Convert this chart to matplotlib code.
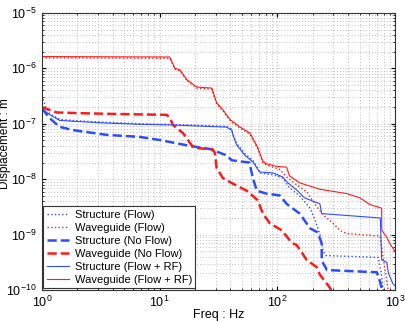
import matplotlib as mpl
mpl.use('Agg')
import matplotlib.pyplot as plt
from matplotlib.ticker import NullFormatter

plt.rcParams['font.family'] = ['Liberation Sans', 'DejaVu Sans']
plt.rcParams['mathtext.fontset'] = 'custom'
plt.rcParams['mathtext.rm'] = 'Liberation Sans'

# Structure (Flow + RF)
f_str_rf = [1, 1.17, 1.42, 1.98, 3.57, 6.8, 13.0, 37, 41, 42, 45, 53, 62, 67, 71, 92,
            111, 123, 146, 171, 230, 238, 750, 770, 850, 880, 960, 1000]
v_str_rf = [1.9e-7, 1.45e-7, 1.15e-7, 1.1e-7, 1.03e-7, 9.8e-8, 9.5e-8, 8.7e-8, 7.7e-8, 6.3e-8,
            4.2e-8, 2.7e-8, 2.05e-8, 1.6e-8, 1.35e-8, 1.3e-8, 1.1e-8, 8.6e-9, 6.4e-9, 4.6e-9,
            3.6e-9, 2.4e-9, 2.0e-9, 3.5e-10, 3.2e-10, 2.0e-10, 1.3e-10, 1.2e-10]

# Structure (Flow)
f_str_flow = [1, 1.08, 1.17, 1.42, 1.98, 3.57, 6.8, 13.0, 37, 41, 42, 45, 53, 62, 67, 71, 92,
              111, 127, 155, 190, 210, 230, 245, 260, 720, 760, 790, 820]
v_str_flow = [3.2e-7, 2.0e-7, 1.5e-7, 1.2e-7, 1.13e-7, 1.06e-7, 1.0e-7, 9.7e-8, 9.0e-8, 8.0e-8,
              6.6e-8, 4.5e-8, 2.9e-8, 2.2e-8, 1.7e-8, 1.3e-8, 1.2e-8, 1.05e-8, 7.0e-9, 5.0e-9,
              3.0e-9, 1.8e-9, 1.0e-9, 5.0e-10, 4.2e-10, 3.9e-10, 2.2e-10, 1.1e-10, 8e-11]

# Structure (No Flow)
f_str_noflow = [1, 1.17, 1.42, 1.83, 3.57, 6.8, 10.0, 18, 26.8, 37, 41, 48, 58, 62, 67, 81,
                105, 120, 155, 190, 220, 238, 238.5, 264, 700, 740, 770, 790]
v_str_noflow = [1.9e-7, 1.25e-7, 8.8e-8, 7.7e-8, 6.3e-8, 5.8e-8, 5.1e-8, 4.0e-8, 3.5e-8, 2.7e-8,
                2.2e-8, 2.1e-8, 2.0e-8, 1.05e-8, 6.2e-9, 5.5e-9, 5.1e-9, 3.6e-9, 2.4e-9, 1.3e-9,
                1.1e-9, 7e-10, 3.4e-10, 2.3e-10, 2.1e-10, 1.5e-10, 1.1e-10, 9e-11]

# Waveguide (No Flow)
f_wg_noflow = [1, 1.34, 2.2, 4.3, 11.5, 12.2, 13.0, 15.8, 17.0, 19.2, 22, 28, 29.5, 30.5, 34.5,
               42, 55, 68, 75.5, 86.5, 109, 133, 146, 178, 216, 230, 280, 300]
v_wg_noflow = [2.0e-7, 1.6e-7, 1.55e-7, 1.5e-7, 1.45e-7, 1.3e-7, 9.5e-8, 6.8e-8, 5.5e-8, 3.8e-8,
               3.6e-8, 3.5e-8, 3.0e-8, 1.6e-8, 1.05e-8, 8.3e-9, 6.2e-9, 4.2e-9, 2.4e-9, 1.6e-9,
               1.2e-9, 7.1e-10, 6.5e-10, 3.5e-10, 2.6e-10, 1.9e-10, 1.1e-10, 8e-11]

# Waveguide (Flow + RF)
f_wg_rf = [1, 12.2, 13.5, 14.9, 17.1, 20.7, 27.8, 30.5, 34.5, 39.6, 48, 58.6, 68, 75.5, 81, 99,
           120, 127, 155, 230, 390, 505, 610, 770, 772, 850, 900, 1000]
v_wg_rf = [1.63e-6, 1.6e-6, 1.0e-6, 9.4e-7, 6.2e-7, 4.6e-7, 4.4e-7, 2.4e-7, 1.8e-7, 1.2e-7,
           8.8e-8, 6.8e-8, 3.8e-8, 2.1e-8, 1.9e-8, 1.7e-8, 1.65e-8, 1.15e-8, 8.6e-9, 6.6e-9,
           5.5e-9, 4.6e-9, 3.5e-9, 3.0e-9, 1.2e-9, 9e-10, 7e-10, 5e-10]

# Waveguide (Flow)
f_wg_flow = [1, 12.2, 13.5, 14.9, 17.1, 20.7, 27.8, 30.5, 34.5, 39.6, 48, 58.6, 68, 75.5, 81,
             105, 120, 146, 178, 216, 250, 297, 340, 388, 746, 790, 850, 880]
v_wg_flow = [1.55e-6, 1.52e-6, 9.6e-7, 9.0e-7, 6.0e-7, 4.4e-7, 4.2e-7, 2.3e-7, 1.7e-7, 1.15e-7,
             8.4e-8, 6.5e-8, 3.6e-8, 2.0e-8, 1.8e-8, 1.5e-8, 1.1e-8, 7.9e-9, 5.9e-9, 3.2e-9,
             2.2e-9, 1.6e-9, 1.2e-9, 1.05e-9, 9.4e-10, 4e-10, 1.5e-10, 9e-11]

blue = '#2c4cff'
red = '#ff1a1a'

fig = plt.figure(figsize=(4.06, 3.22), dpi=100)
ax = fig.add_axes([0.103, 0.099, 0.870, 0.861])

ax.loglog(f_str_flow, v_str_flow, ':', color=blue, lw=1.0, label='Structure (Flow)')
ax.loglog(f_wg_flow, v_wg_flow, ':', color=red, lw=1.0, label='Waveguide (Flow)')
ax.loglog(f_str_noflow, v_str_noflow, '--', color=blue, lw=1.8, label='Structure (No Flow)')
ax.loglog(f_wg_noflow, v_wg_noflow, '--', color=red, lw=1.8, label='Waveguide (No Flow)')
ax.loglog(f_str_rf, v_str_rf, '-', color=blue, lw=0.8, label='Structure (Flow + RF)')
ax.loglog(f_wg_rf, v_wg_rf, '-', color=red, lw=0.8, label='Waveguide (Flow + RF)')

ax.set_xlim(1, 1000)
ax.set_ylim(1e-10, 1e-5)
ax.xaxis.set_minor_formatter(NullFormatter())
ax.yaxis.set_minor_formatter(NullFormatter())
ax.grid(True, which='both', linestyle=(0, (1, 2.5)), color='#aaaaaa', lw=0.6)
ax.tick_params(which='both', direction='in', top=True, right=True, labelsize=9)
ax.tick_params(which='major', length=3)
ax.tick_params(which='minor', length=1.5)
for s in ax.spines.values():
    s.set_linewidth(0.8)
    s.set_color('#333333')

ax.set_xlabel('Freq : Hz', fontsize=9)
ax.set_ylabel('Displacement : m', fontsize=8.5)
ax.xaxis.set_label_coords(0.5, -0.068)
ax.yaxis.set_label_coords(-0.086, 0.53)

leg = ax.legend(loc='lower left', fontsize=8, fancybox=False, framealpha=1,
                edgecolor='#333333', borderpad=0.3, labelspacing=0.28,
                handlelength=2.0, handletextpad=0.5, borderaxespad=0.15)
leg.get_frame().set_linewidth(0.8)

fig.savefig('out.png', dpi=100)
